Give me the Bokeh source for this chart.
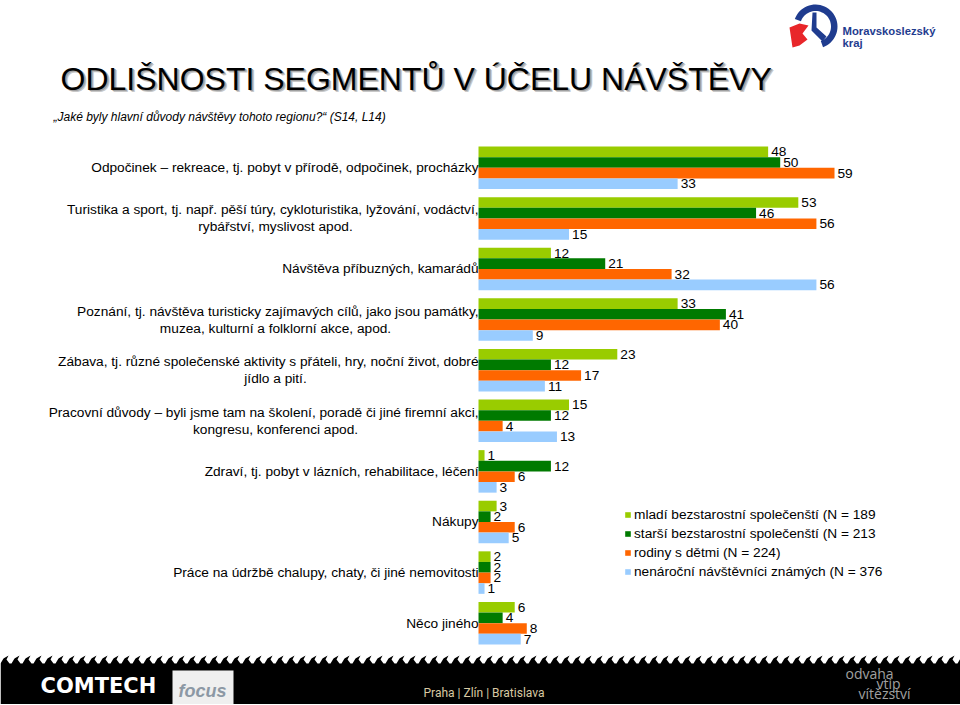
import numpy as np
from bokeh.plotting import figure
from bokeh.models import (ColumnDataSource, Range1d, Label, Legend, LegendItem,
                          PolyAnnotation)
from bokeh.transform import dodge
from bokeh.core.properties import value
from bokeh.embed import file_html
from bokeh.resources import INLINE

# ---------------- data ----------------
categories = [
    "Odpočinek – rekreace, tj. pobyt v přírodě, odpočinek, procházky",
    "Turistika a sport, tj. např. pěší túry, cykloturistika, lyžování, vodáctví,\nrybářství, myslivost apod.",
    "Návštěva příbuzných, kamarádů",
    "Poznání, tj. návštěva turisticky zajímavých cílů, jako jsou památky,\nmuzea, kulturní a folklorní akce, apod.",
    "Zábava, tj. různé společenské aktivity s přáteli, hry, noční život, dobré\njídlo a pití.",
    "Pracovní důvody – byli jsme tam na školení, poradě či jiné firemní akci,\nkongresu, konferenci apod.",
    "Zdraví, tj. pobyt v lázních, rehabilitace, léčení",
    "Nákupy",
    "Práce na údržbě chalupy, chaty, či jiné nemovitosti",
    "Něco jiného",
]
mladi = [48, 53, 12, 33, 23, 15, 1, 3, 2, 6]
starsi = [50, 46, 21, 41, 12, 12, 12, 2, 2, 4]
rodiny = [59, 56, 32, 40, 17, 4, 6, 6, 2, 8]
nenarocni = [33, 15, 56, 9, 11, 13, 3, 5, 1, 7]
series_names = [
    "mladí bezstarostní společenští (N = 189",
    "starší bezstarostní společenští (N = 213",
    "rodiny s dětmi (N = 224)",
    "nenároční návštěvníci známých (N = 376",
]
title_text = "ODLIŠNOSTI SEGMENTŮ V ÚČELU NÁVŠTĚVY"
subtitle_text = "„Jaké byly hlavní důvody návštěvy tohoto regionu?“ (S14, L14)"

colors = ["#99CC00", "#007A00", "#FF6600", "#99CCFF"]
offsets = [-0.315, -0.105, 0.105, 0.315]
FONT = "Liberation Sans"
FS = "13.7px"

# ---------------- figure (frame = whole canvas) ----------------
W, H = 960, 704
p = figure(width=W, height=H, output_backend="svg", toolbar_location=None,
           title=None, x_axis_location=None, y_axis_location=None,
           x_range=Range1d(-79.22, 79.88), y_range=Range1d(10.607, -3.306),
           min_border=0)
p.outline_line_color = None
p.grid.visible = False

ypos = list(range(len(categories)))
data = dict(y=ypos)
for i, vals in enumerate([mladi, starsi, rodiny, nenarocni]):
    data[f"s{i}"] = vals
    data[f"l{i}"] = [str(v) for v in vals]
src = ColumnDataSource(data)

items = []
for i in range(4):
    r = p.hbar(y=dodge("y", offsets[i]), left=0, right=f"s{i}",
               height=0.21, fill_color=colors[i], line_color=None, source=src)
    items.append(LegendItem(label=series_names[i], renderers=[r]))
    p.text(x=f"s{i}", y=dodge("y", offsets[i]), text=f"l{i}", source=src,
           x_offset=3, text_baseline="middle", text_align="left",
           text_font=value(FONT), text_font_size=FS, text_color="black")

# category labels
first = [c.split("\n")[0] for c in categories]
second = [c.split("\n")[1] if "\n" in c else "" for c in categories]
yoff1 = [-8.5 if "\n" in c else 0 for c in categories]
lsrc = ColumnDataSource(dict(x=[0] * len(categories), y=ypos, t1=first, t2=second,
                             o1=yoff1, o2=[-v for v in yoff1]))
p.text(x="x", y="y", text="t1", y_offset="o1", x_offset=0, source=lsrc,
       text_align="right", text_baseline="middle", text_font=value(FONT),
       text_font_size=FS, text_color="black")
p.text(x="x", y="y", text="t2", y_offset="o2", x_offset=-203, source=lsrc,
       text_align="center", text_baseline="middle", text_font=value(FONT),
       text_font_size=FS, text_color="black")

legend = Legend(items=items, location=(624, 123), orientation="vertical",
                glyph_width=7, glyph_height=7, label_standoff=3, label_height=19,
                spacing=0, padding=0, margin=0, border_line_color=None,
                background_fill_alpha=0, label_text_font=FONT,
                label_text_font_size=FS, label_text_color="black")
p.add_layout(legend)


# canvas pixel (from top-left) -> screen units of the frame
def sx(X):
    return X


def sy(Y):
    return H - Y


def lab(X, Y, text, size, color="black", style="normal", font=FONT,
        baseline="middle", align="left"):
    p.add_layout(Label(x=sx(X), y=sy(Y), x_units="screen", y_units="screen",
                       text=text, text_font=font, text_font_size=size,
                       text_color=color, text_font_style=style,
                       text_baseline=baseline, text_align=align))


def poly(pts, color):
    xs = [sx(a) for a, b in pts]
    ys = [sy(b) for a, b in pts]
    p.add_layout(PolyAnnotation(xs=xs, ys=ys, xs_units="screen", ys_units="screen",
                                fill_color=color, fill_alpha=1, line_color=None))


# title with soft shadow
lab(62.5, 80.5, title_text, "32px", color="#C8C8C8", baseline="alphabetic")
lab(61.5, 79.5, title_text, "32px", color="#A0A0A0", baseline="alphabetic")
lab(60, 78, title_text, "32px", color="black", baseline="alphabetic")
lab(53, 116, subtitle_text, "12px", style="italic")

# logo (decoration)
th = np.radians(np.linspace(160, -70, 40))
cx, cy = 815, 26
outer = [(cx + 22 * np.cos(t), cy - 22 * np.sin(t)) for t in th]
inner = [(cx + 15.5 * np.cos(t), cy - 15.5 * np.sin(t)) for t in th[::-1]]
poly(outer + inner, "#1F3C8F")
poly([(812, 12), (816, 12), (816, 27), (826, 36), (822, 41), (811, 30)], "#1F3C8F")
poly([(789, 27), (799, 23), (808, 25), (802, 33), (807, 39), (799, 45), (792, 47)],
     "#E8262A")
lab(842, 30, "Moravskoslezský", "11.3px", color="#1F3C8F", style="bold")
lab(842, 42, "kraj", "11.3px", color="#1F3C8F", style="bold")

# footer (decoration)
top = []
for x0 in range(0, 964, 11):
    top += [(x0, 663), (x0 + 3, 658), (x0 + 8, 655), (x0 + 6, 659), (x0 + 9, 663)]
poly(top + [(964, 663), (964, 710), (0, 710)], "black")
lab(40, 685, "COMTECH", "21px", color="white", style="bold", font="DejaVu Sans")
poly([(172, 670), (233, 670), (233, 710), (172, 710)], "#EFEFEF")
lab(178, 690, "focus", "18px", color="#8C98A4", style="bold italic")
lab(423, 692, "Praha | Zlín | Bratislava", "12px", color="#D8C9A3", font="Roboto")
lab(845, 673, "odvaha", "14px", color="#A0A0A0", font="Open Sans")
lab(876, 683, "vtip", "14px", color="#A0A0A0", font="Open Sans")
lab(858, 693, "vítězství", "14px", color="#A0A0A0", font="Open Sans")

open("out.html", "w").write(file_html(p, INLINE))
